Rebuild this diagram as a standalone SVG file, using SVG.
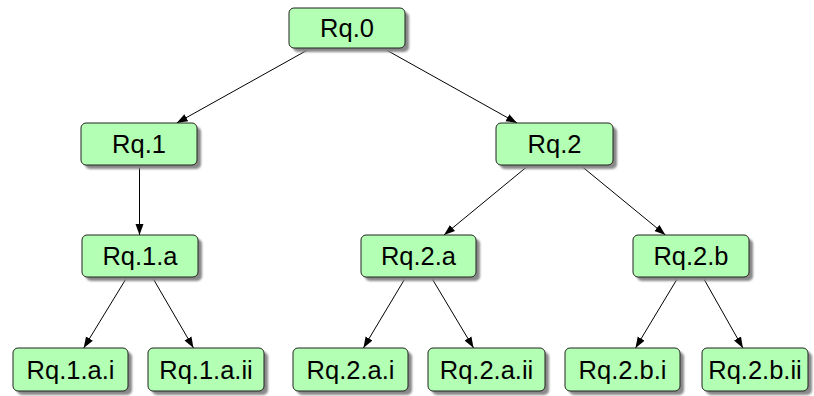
<svg xmlns="http://www.w3.org/2000/svg" width="814" height="396" viewBox="0 0 814 396">
  <style>
    .box { fill: #b3ffb3; stroke: #222; stroke-width: 1; }
    .shadow { fill: #888; filter: url(#soft); }
    .label { font-family: "Liberation Sans", Arial, sans-serif; font-size: 25.5px; fill: #000; text-anchor: middle; }
    .edge { stroke: #000; stroke-width: 1; fill: none; marker-end: url(#arrow); }
  </style>
  <defs>
    <filter id="soft" x="-10%" y="-20%" width="120%" height="140%">
      <feGaussianBlur stdDeviation="1.2"/>
    </filter>
    <marker id="arrow" markerUnits="userSpaceOnUse" markerWidth="12" markerHeight="10" viewBox="0 0 12 10" refX="11" refY="5" orient="auto">
      <path d="M0,1 L11,5 L0,9 Z" fill="#000"/>
    </marker>
  </defs>

  <!-- connectors -->
  <g id="edges">
    <line class="edge" x1="311.1" y1="48" x2="176.7" y2="123"/>
    <line class="edge" x1="382.8" y1="48" x2="517" y2="123"/>
    <line class="edge" x1="139.5" y1="165" x2="139.5" y2="235"/>
    <line class="edge" x1="529" y1="165" x2="444" y2="235"/>
    <line class="edge" x1="580.1" y1="165" x2="665.4" y2="235"/>
    <line class="edge" x1="127.1" y1="277" x2="83.7" y2="348"/>
    <line class="edge" x1="152.2" y1="277" x2="193.5" y2="348"/>
    <line class="edge" x1="405.9" y1="277" x2="363.4" y2="348"/>
    <line class="edge" x1="431.1" y1="277" x2="473.6" y2="348"/>
    <line class="edge" x1="678.3" y1="277" x2="635.5" y2="348"/>
    <line class="edge" x1="702.8" y1="277" x2="742.9" y2="348"/>
  </g>

  <!-- level 0 -->
  <g id="rq0">
    <rect class="shadow" x="293" y="12" width="116" height="40" rx="5"/>
    <rect class="box" x="289" y="8" width="116" height="40" rx="5"/>
    <text class="label" x="347" y="37">Rq.0</text>
  </g>

  <!-- level 1 -->
  <g id="rq1">
    <rect class="shadow" x="85" y="127" width="116" height="42" rx="5"/>
    <rect class="box" x="81" y="123" width="116" height="42" rx="5"/>
    <text class="label" x="139" y="153">Rq.1</text>
  </g>
  <g id="rq2">
    <rect class="shadow" x="500" y="127" width="117" height="42" rx="5"/>
    <rect class="box" x="496" y="123" width="117" height="42" rx="5"/>
    <text class="label" x="554.5" y="153">Rq.2</text>
  </g>

  <!-- level 2 -->
  <g id="rq1a">
    <rect class="shadow" x="86" y="239" width="116" height="42" rx="5"/>
    <rect class="box" x="82" y="235" width="116" height="42" rx="5"/>
    <text class="label" x="140" y="265">Rq.1.a</text>
  </g>
  <g id="rq2a">
    <rect class="shadow" x="365" y="239" width="115" height="42" rx="5"/>
    <rect class="box" x="361" y="235" width="115" height="42" rx="5"/>
    <text class="label" x="418.5" y="265">Rq.2.a</text>
  </g>
  <g id="rq2b">
    <rect class="shadow" x="637" y="239" width="116" height="42" rx="5"/>
    <rect class="box" x="633" y="235" width="116" height="42" rx="5"/>
    <text class="label" x="691" y="265">Rq.2.b</text>
  </g>

  <!-- level 3 -->
  <g id="rq1ai">
    <rect class="shadow" x="17" y="352" width="115" height="43" rx="5"/>
    <rect class="box" x="13" y="348" width="115" height="43" rx="5"/>
    <text class="label" x="70.5" y="378.5">Rq.1.a.i</text>
  </g>
  <g id="rq1aii">
    <rect class="shadow" x="152" y="352" width="116" height="43" rx="5"/>
    <rect class="box" x="148" y="348" width="116" height="43" rx="5"/>
    <text class="label" x="206" y="378.5">Rq.1.a.ii</text>
  </g>
  <g id="rq2ai">
    <rect class="shadow" x="297" y="352" width="115" height="43" rx="5"/>
    <rect class="box" x="293" y="348" width="115" height="43" rx="5"/>
    <text class="label" x="350.5" y="378.5">Rq.2.a.i</text>
  </g>
  <g id="rq2aii">
    <rect class="shadow" x="432" y="352" width="117" height="43" rx="5"/>
    <rect class="box" x="428" y="348" width="117" height="43" rx="5"/>
    <text class="label" x="486.5" y="378.5">Rq.2.a.ii</text>
  </g>
  <g id="rq2bi">
    <rect class="shadow" x="569" y="352" width="115" height="43" rx="5"/>
    <rect class="box" x="565" y="348" width="115" height="43" rx="5"/>
    <text class="label" x="622.5" y="378.5">Rq.2.b.i</text>
  </g>
  <g id="rq2bii">
    <rect class="shadow" x="706" y="352" width="106" height="43" rx="5"/>
    <rect class="box" x="702" y="348" width="106" height="43" rx="5"/>
    <text class="label" x="755" y="378.5">Rq.2.b.ii</text>
  </g>
</svg>
